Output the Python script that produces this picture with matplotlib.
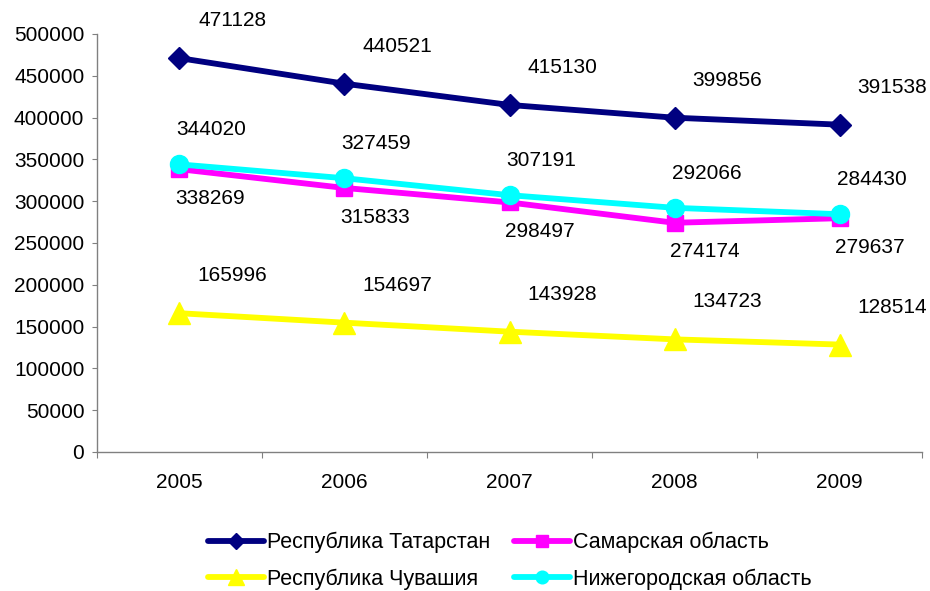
import matplotlib
matplotlib.use("Agg")
import matplotlib.pyplot as plt
from matplotlib.ticker import FixedLocator

plt.rcParams['font.family'] = ['Liberation Sans', 'DejaVu Sans']

years = ["2005", "2006", "2007", "2008", "2009"]
tatarstan = [471128, 440521, 415130, 399856, 391538]
samara = [338269, 315833, 298497, 274174, 279637]
chuvashia = [165996, 154697, 143928, 134723, 128514]
nizhny = [344020, 327459, 307191, 292066, 284430]
names = ["Республика Татарстан", "Самарская область",
         "Республика Чувашия", "Нижегородская область"]

FS = 15

fig = plt.figure(figsize=(9.3, 5.91), dpi=100)
ax = fig.add_axes([0.1043, 0.2352, 0.8871, 0.7073])

x = [i + 0.5 for i in range(len(years))]

series = [
    (tatarstan, names[0], "#000080", "D", 11, (38, 27)),
    (samara, names[1], "#FF00FF", "s", 12, (22, -21)),
    (chuvashia, names[2], "#FFFF00", "^", 16, (38, 27)),
    (nizhny, names[3], "#00FFFF", "o", 13, (23, 25)),
]
lines = {}
for vals, name, col, mk, ms, off in series:
    ln, = ax.plot(x, vals, color=col, lw=4.2, marker=mk, markersize=ms,
                  markerfacecolor=col, markeredgecolor=col, clip_on=False,
                  solid_capstyle='round', label=name)
    lines[name] = ln
    for xi, v in zip(x, vals):
        ax.annotate(str(v), (xi, v), xytext=off, textcoords="offset points",
                    ha="center", va="center", fontsize=FS, color="black",
                    annotation_clip=False)

ax.set_xlim(0, len(years))
ax.set_ylim(0, 500000)
ax.yaxis.set_major_locator(FixedLocator(range(0, 500001, 50000)))
ax.xaxis.set_major_locator(FixedLocator(range(0, len(years) + 1)))
ax.xaxis.set_minor_locator(FixedLocator(x))
ax.set_xticklabels([""] * (len(years) + 1))
ax.set_xticklabels(years, minor=True)
ax.tick_params(axis='x', which='major', length=4.5, color='#808080', direction='out')
ax.tick_params(axis='x', which='minor', length=0, pad=15, labelsize=FS)
ax.tick_params(axis='y', length=3.6, color='#808080', labelsize=FS, pad=5.5)
for s in ['top', 'right']:
    ax.spines[s].set_visible(False)
for s in ['left', 'bottom']:
    ax.spines[s].set_color('#808080')
    ax.spines[s].set_linewidth(1)

order = [names[0], names[2], names[1], names[3]]
handles = [lines[n] for n in order]
leg = fig.legend(handles, order, loc='upper left', bbox_to_anchor=(0.2237, 0.1),
                 ncol=2, frameon=False, fontsize=15.5, handlelength=2.6,
                 handletextpad=0.15, columnspacing=1.1, labelspacing=0.72,
                 borderaxespad=0, borderpad=0, markerscale=0.7)

fig.savefig("out.png", dpi=100)
